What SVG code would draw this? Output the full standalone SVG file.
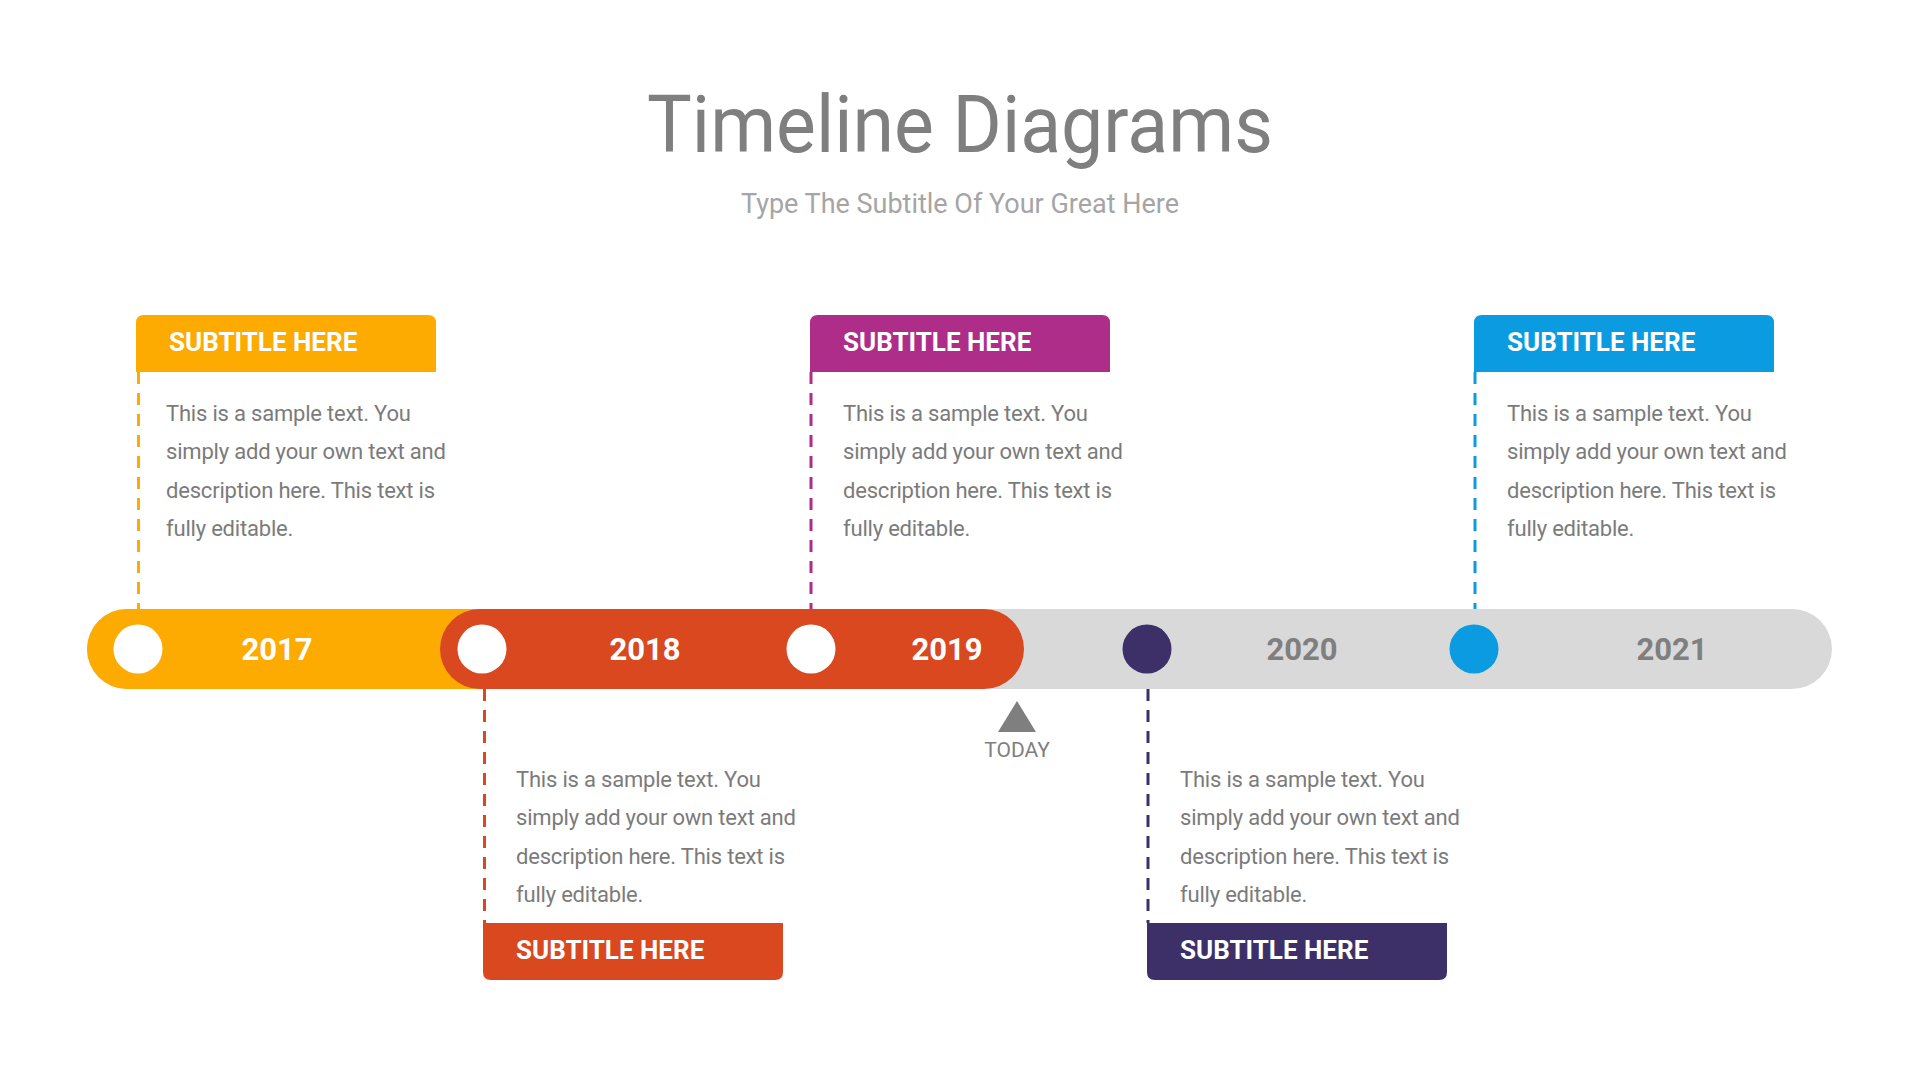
<svg xmlns="http://www.w3.org/2000/svg" width="1920" height="1080" viewBox="0 0 1920 1080">
<style>
.title{font-family:Roboto,"Liberation Sans",sans-serif;font-size:80px;fill:#7f7f7f;text-anchor:middle}
.sub{font-family:Roboto,"Liberation Sans",sans-serif;font-size:28px;fill:#a5a5a5;text-anchor:middle}
.hd{font-family:Roboto,"Liberation Sans",sans-serif;font-size:26px;font-weight:bold;fill:#fff}
.body{font-family:Roboto,"Liberation Sans",sans-serif;font-size:22px;fill:#7b7b7b;letter-spacing:-0.2px}
.yr{font-family:Roboto,"Liberation Sans",sans-serif;font-size:31px;font-weight:bold;text-anchor:middle}
.today{font-family:Roboto,"Liberation Sans",sans-serif;font-size:21px;fill:#7f7f7f;text-anchor:middle}
.dash{stroke-width:3;stroke-dasharray:12 9;fill:none}
</style>
<rect width="1920" height="1080" fill="#fff"/>
<text class="title" x="960" y="152" textLength="626" lengthAdjust="spacingAndGlyphs">Timeline Diagrams</text>
<text class="sub" x="960" y="213" textLength="438" lengthAdjust="spacingAndGlyphs">Type The Subtitle Of Your Great Here</text>

<g id="connectors">
<line class="dash" x1="138.5" y1="372" x2="138.5" y2="609" stroke="#fdab00"/>
<line class="dash" x1="811" y1="372" x2="811" y2="609" stroke="#ad2d89"/>
<line class="dash" x1="1475" y1="372" x2="1475" y2="609" stroke="#0b9be0"/>
<line class="dash" x1="484.5" y1="689" x2="484.5" y2="923" stroke="#d9481e"/>
<line class="dash" x1="1148" y1="689" x2="1148" y2="923" stroke="#3d3068"/>
</g>

<g id="bar">
<rect x="87" y="609" width="1745" height="80" rx="40" fill="#d9d9d9"/>
<rect x="87" y="609" width="440" height="80" rx="40" fill="#fdab00"/>
<rect x="440" y="609" width="584" height="80" rx="40" fill="#d9481e"/>
<circle cx="138" cy="649" r="24.5" fill="#fff"/>
<circle cx="482" cy="649" r="24.5" fill="#fff"/>
<circle cx="811" cy="649" r="24.5" fill="#fff"/>
<circle cx="1147" cy="649" r="24.5" fill="#3d3068"/>
<circle cx="1474" cy="649" r="24.5" fill="#0b9be0"/>
<text class="yr" x="277" y="660" fill="#fff">2017</text>
<text class="yr" x="645" y="660" fill="#fff">2018</text>
<text class="yr" x="947" y="660" fill="#fff">2019</text>
<text class="yr" x="1302" y="660" fill="#7f7f7f">2020</text>
<text class="yr" x="1672" y="660" fill="#7f7f7f">2021</text>
</g>

<g id="today">
<polygon points="1017,701 998,732 1036,732" fill="#7f7f7f"/>
<text class="today" x="1017" y="757">TODAY</text>
</g>

<g id="node-2017">
<path d="M136,372 V323 Q136,315 144,315 H428 Q436,315 436,323 V372 Z" fill="#fdab00"/>
<text class="hd" x="169" y="351">SUBTITLE HERE</text>
<text class="body" x="166" y="421">This is a sample text. You</text>
<text class="body" x="166" y="459">simply add your own text and</text>
<text class="body" x="166" y="498">description here. This text is</text>
<text class="body" x="166" y="536">fully editable.</text>
</g>

<g id="node-2019">
<path d="M810,372 V323 Q810,315 818,315 H1102 Q1110,315 1110,323 V372 Z" fill="#ad2d89"/>
<text class="hd" x="843" y="351">SUBTITLE HERE</text>
<text class="body" x="843" y="421">This is a sample text. You</text>
<text class="body" x="843" y="459">simply add your own text and</text>
<text class="body" x="843" y="498">description here. This text is</text>
<text class="body" x="843" y="536">fully editable.</text>
</g>

<g id="node-2021">
<path d="M1474,372 V323 Q1474,315 1482,315 H1766 Q1774,315 1774,323 V372 Z" fill="#0b9be0"/>
<text class="hd" x="1507" y="351">SUBTITLE HERE</text>
<text class="body" x="1507" y="421">This is a sample text. You</text>
<text class="body" x="1507" y="459">simply add your own text and</text>
<text class="body" x="1507" y="498">description here. This text is</text>
<text class="body" x="1507" y="536">fully editable.</text>
</g>

<g id="node-2018">
<path d="M483,923 H783 V972 Q783,980 775,980 H491 Q483,980 483,972 Z" fill="#d9481e"/>
<text class="hd" x="516" y="959">SUBTITLE HERE</text>
<text class="body" x="516" y="787">This is a sample text. You</text>
<text class="body" x="516" y="825">simply add your own text and</text>
<text class="body" x="516" y="864">description here. This text is</text>
<text class="body" x="516" y="902">fully editable.</text>
</g>

<g id="node-2020">
<path d="M1147,923 H1447 V972 Q1447,980 1439,980 H1155 Q1147,980 1147,972 Z" fill="#3d3068"/>
<text class="hd" x="1180" y="959">SUBTITLE HERE</text>
<text class="body" x="1180" y="787">This is a sample text. You</text>
<text class="body" x="1180" y="825">simply add your own text and</text>
<text class="body" x="1180" y="864">description here. This text is</text>
<text class="body" x="1180" y="902">fully editable.</text>
</g>
</svg>
